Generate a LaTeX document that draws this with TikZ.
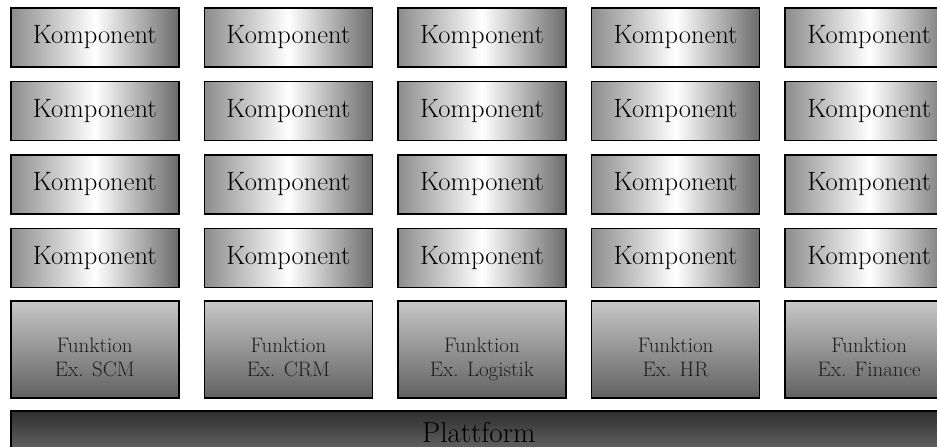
\documentclass[tikz,border=0pt]{standalone}
\usepackage{fontspec}
\usepackage{tikz}
\usetikzlibrary{positioning}
\tikzset{
  block/.style={draw=black, line width=1.6pt, align=center, inner sep=2pt,
    minimum width=168pt},
  kompblock/.style={block, minimum height=59pt, left color=black!45,
    right color=black!58, middle color=white, font=\fontsize{26.5}{30}\selectfont},
  funkblock/.style={block, minimum height=97pt, top color=black!22,
    bottom color=black!62, text=black!88, text height=58pt, text depth=4pt,
    font=\fontsize{21}{24}\selectfont},
  platblock/.style={block, minimum width=936pt, minimum height=60pt,
    top color=black!82, bottom color=black!50, text depth=16pt,
    font=\fontsize{29}{32}\selectfont}
}

\begin{document}
\begin{tikzpicture}[node distance=13pt and 24pt]
  \useasboundingbox (0pt,0pt) rectangle (937pt,-447pt);
  \clip (0pt,0pt) rectangle (937pt,-447pt);

  % first row of components
  \node[kompblock, anchor=north west] (k11) at (10pt,-7pt) {Komponent};
  \node[kompblock, right=of k11] (k12) {Komponent};
  \node[kompblock, right=of k12] (k13) {Komponent};
  \node[kompblock, right=of k13] (k14) {Komponent};
  \node[kompblock, right=of k14] (k15) {Komponent};

  \node[kompblock, below=of k11] (k21) {Komponent};
  \node[kompblock, below=of k12] (k22) {Komponent};
  \node[kompblock, below=of k13] (k23) {Komponent};
  \node[kompblock, below=of k14] (k24) {Komponent};
  \node[kompblock, below=of k15] (k25) {Komponent};

  \node[kompblock, below=of k21] (k31) {Komponent};
  \node[kompblock, below=of k22] (k32) {Komponent};
  \node[kompblock, below=of k23] (k33) {Komponent};
  \node[kompblock, below=of k24] (k34) {Komponent};
  \node[kompblock, below=of k25] (k35) {Komponent};

  \node[kompblock, below=of k31] (k41) {Komponent};
  \node[kompblock, below=of k32] (k42) {Komponent};
  \node[kompblock, below=of k33] (k43) {Komponent};
  \node[kompblock, below=of k34] (k44) {Komponent};
  \node[kompblock, below=of k35] (k45) {Komponent};

  % functions
  \node[funkblock, below=12pt of k41] (fscm) {Funktion\\Ex. SCM};
  \node[funkblock, below=12pt of k42] (fcrm) {Funktion\\Ex. CRM};
  \node[funkblock, below=12pt of k43] (flog) {Funktion\\Ex. Logistik};
  \node[funkblock, below=12pt of k44] (fhr) {Funktion\\Ex. HR};
  \node[funkblock, below=12pt of k45] (ffin) {Funktion\\Ex. Finance};

  \node[platblock, below=11pt of fscm.south west, anchor=north west] (plat) {Plattform};
\end{tikzpicture}
\end{document}
